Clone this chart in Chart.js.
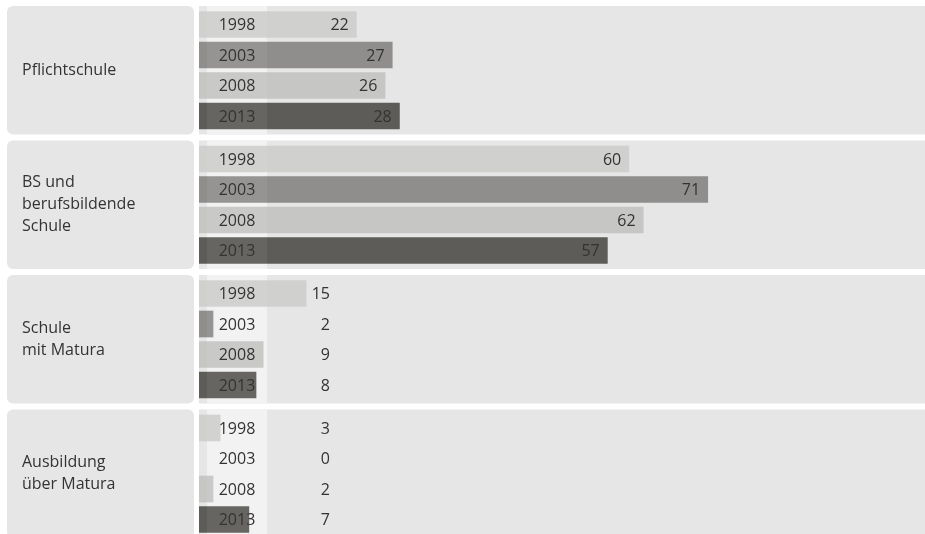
<!DOCTYPE html>
<html>
<head>
<meta charset="utf-8">
<script src="https://cdn.jsdelivr.net/npm/chart.js@4"></script>
<style>
body { margin: 0; background: #fff; overflow: hidden; }
#wrap { width: 925px; height: 544px; position: relative; }
</style>
</head>
<body>
<div id="wrap"><canvas id="chart"></canvas></div>
<script>
// groups (y categories) and the four survey years
const groups = [
  ['Pflichtschule'],
  ['BS und', 'berufsbildende', 'Schule'],
  ['Schule', 'mit Matura'],
  ['Ausbildung', 'über Matura']
];
const years = ['1998', '2003', '2008', '2013'];
const v1998 = [22, 60, 15, 3];
const v2003 = [27, 71, 2, 0];
const v2008 = [26, 62, 9, 2];
const v2013 = [28, 57, 8, 7];
const barColors = ['#d0d0ce', '#8f8e8c', '#c6c6c4', '#5d5c58'];

const textColor = '#333';
const fontFamily = '"Open Sans", "Noto Sans", sans-serif';

function roundRect(ctx, x, y, w, h, r){
  ctx.beginPath();
  ctx.moveTo(x + r, y);
  ctx.arcTo(x + w, y, x + w, y + h, r);
  ctx.arcTo(x + w, y + h, x, y + h, r);
  ctx.arcTo(x, y + h, x, y, r);
  ctx.arcTo(x, y, x + w, y, r);
  ctx.closePath();
}

// grey panels behind each group + light column for the year labels
const panels = {
  id: 'panels',
  beforeDraw(chart){
    const {ctx, chartArea, scales: {y}} = chart;
    const half = 64.25;
    ctx.save();
    ctx.fillStyle = '#fff';
    ctx.fillRect(0, 0, chart.width, chart.height);
    groups.forEach((g, i) => {
      const c = y.getPixelForValue(i);
      ctx.fillStyle = '#e6e6e6';
      roundRect(ctx, 7, c - half, chartArea.left - 12, half * 2, 6);
      ctx.fill();
      ctx.fillRect(chartArea.left, c - half, chart.width - chartArea.left, half * 2);
      ctx.fillStyle = '#f2f2f2';
      ctx.fillRect(chartArea.left + 8, c - half, 60, half * 2);
    });
    ctx.restore();
  },
  afterDatasetsDraw(chart){
    const {ctx, chartArea, scales: {y}} = chart;
    const half = 64.25;
    ctx.save();
    // slight lightening of bars inside the year column
    ctx.fillStyle = 'rgba(255,255,255,0.06)';
    groups.forEach((g, i) => {
      const c = y.getPixelForValue(i);
      ctx.fillRect(chartArea.left + 8, c - half, 60, half * 2);
    });
    ctx.font = '16px ' + fontFamily;
    ctx.fillStyle = textColor;
    ctx.textBaseline = 'middle';
    chart.data.datasets.forEach((ds, di) => {
      chart.getDatasetMeta(di).data.forEach((bar, i) => {
        ctx.textAlign = 'center';
        ctx.fillText(ds.label, chartArea.left + 38, bar.y + 1);
        ctx.textAlign = 'right';
        const xr = Math.max(bar.x - 8, chartArea.left + 131);
        ctx.fillText(String(ds.data[i]), xr, bar.y + 1);
      });
    });
    ctx.restore();
  }
};

const datasets = [v1998, v2003, v2008, v2013].map((vals, i) => ({
  label: years[i],
  data: vals,
  backgroundColor: barColors[i],
  borderWidth: 0,
  categoryPercentage: 0.907,
  barPercentage: 0.875
}));

new Chart(document.getElementById('chart'), {
  type: 'bar',
  data: { labels: groups, datasets: datasets },
  plugins: [panels],
  options: {
    indexAxis: 'y',
    responsive: true,
    maintainAspectRatio: false,
    animation: false,
    layout: { padding: { left: 22, right: 9, top: 3, bottom: 3 } },
    plugins: {
      legend: { display: false },
      tooltip: { enabled: false }
    },
    scales: {
      x: {
        display: false,
        min: 0,
        max: 100
      },
      y: {
        grid: { display: false },
        border: { display: false },
        afterFit(scale){
          scale.width = 177;
          scale.paddingTop = 0;
          scale.paddingBottom = 0;
        },
        ticks: {
          crossAlign: 'far',
          color: textColor,
          font: { family: fontFamily, size: 16, lineHeight: 1.375 }
        }
      }
    }
  }
});
</script>
</body>
</html>
